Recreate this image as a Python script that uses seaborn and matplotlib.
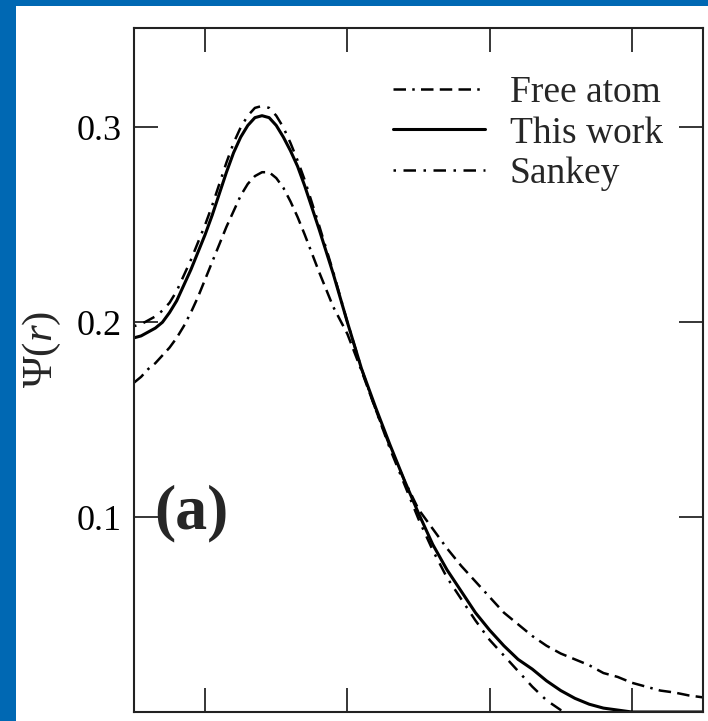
import numpy as np
import pandas as pd
import matplotlib
matplotlib.use("Agg")
import matplotlib.pyplot as plt
from matplotlib.patches import Rectangle
import seaborn as sns

### Data

r = [0.50, 0.55, 0.60, 0.65, 0.70, 0.75, 0.80, 0.85, 0.90, 0.95,
     1.00, 1.05, 1.10, 1.15, 1.20, 1.25, 1.30, 1.35, 1.40, 1.45,
     1.50, 1.55, 1.60, 1.65, 1.70, 1.8, 1.9, 2.0, 2.1, 2.2,
     2.3, 2.4, 2.5, 2.6, 2.7, 2.8, 2.9, 3.0, 3.1, 3.2,
     3.3, 3.4, 3.5, 3.6, 3.7, 3.8, 3.9, 4.0, 4.1, 4.2,
     4.3, 4.4, 4.5]

free_atom = [0.169, 0.172, 0.176, 0.179, 0.183, 0.187, 0.192, 0.198, 0.205, 0.213,
             0.222, 0.231, 0.240, 0.249, 0.257, 0.265, 0.271, 0.275, 0.277, 0.277,
             0.274, 0.269, 0.262, 0.254, 0.245, 0.226, 0.208, 0.194, 0.175, 0.155,
             0.136, 0.119, 0.104, 0.094, 0.084, 0.075, 0.067, 0.059, 0.051, 0.045,
             0.039, 0.034, 0.030, 0.027, 0.024, 0.020, 0.018, 0.015, 0.013, 0.011,
             0.010, 0.0085, 0.0075]

this_work = [0.192, 0.193, 0.195, 0.197, 0.200, 0.205, 0.211, 0.219, 0.227, 0.236,
             0.245, 0.255, 0.266, 0.277, 0.287, 0.295, 0.301, 0.305, 0.306, 0.305,
             0.301, 0.295, 0.288, 0.280, 0.270, 0.248, 0.225, 0.200, 0.176, 0.156,
             0.137, 0.119, 0.102, 0.086, 0.073, 0.062, 0.051, 0.042, 0.034, 0.027,
             0.022, 0.016, 0.011, 0.007, 0.004, 0.002, 0.001, 0.0, 0.0, 0.0,
             0.0, 0.0, 0.0]

sankey = [0.198, 0.199, 0.201, 0.203, 0.206, 0.210, 0.216, 0.224, 0.232, 0.241,
          0.250, 0.260, 0.271, 0.282, 0.292, 0.300, 0.306, 0.310, 0.311, 0.310,
          0.306, 0.300, 0.292, 0.283, 0.273, 0.250, 0.226, 0.200, 0.176, 0.155,
          0.135, 0.117, 0.099, 0.083, 0.069, 0.058, 0.047, 0.037, 0.029, 0.021,
          0.013, 0.006, 0.001, -0.002, -0.004, -0.004, -0.003, -0.002, -0.001, -0.001,
          -0.002, -0.003, -0.004]

labels = ["Free atom", "This work", "Sankey"]
x_ticks = [1, 2, 3, 4]
y_ticks = [0.1, 0.2, 0.3]
y_tick_labels = ["0.1", "0.2", "0.3"]

df = pd.DataFrame({"r": r, "Free atom": free_atom, "This work": this_work, "Sankey": sankey})

### Plot

sns.set_style("ticks")
plt.rcParams["font.family"] = ["Liberation Serif", "DejaVu Serif"]
plt.rcParams["mathtext.fontset"] = "custom"
plt.rcParams["mathtext.it"] = "Liberation Serif:italic"
plt.rcParams["mathtext.rm"] = "Liberation Serif"

fig = plt.figure(figsize=(7.08, 7.21), dpi=100, facecolor="#0068B3")
fig.patches.append(Rectangle((16 / 708, 0), 1 - 16 / 708, 715 / 721,
                             transform=fig.transFigure, facecolor="white",
                             edgecolor="none", zorder=-10))
ax = fig.add_axes([134 / 708, 9 / 721, 569 / 708, 684 / 721])
ax.set_facecolor("white")

styles = {
    "Free atom": dict(linestyle=(0, (5, 2.5, 1, 2.5, 5, 2.5, 5, 2.5)), lw=1.8),
    "This work": dict(linestyle="-", lw=2.2),
    "Sankey": dict(linestyle=(0, (1, 3, 5, 3)), lw=1.8),
}
for name in labels:
    sns.lineplot(data=df, x="r", y=name, ax=ax, color="black", label=name,
                 **styles[name])

ax.set_xlim(0.5, 4.5)
ax.set_ylim(0.0, 0.351)
ax.set_xticks(x_ticks)
ax.set_xticklabels([])
ax.set_yticks(y_ticks)
ax.set_yticklabels(y_tick_labels)
ax.tick_params(direction="in", length=17, width=1.1, top=True, right=True,
               labelsize=26, pad=9, colors="black")
for sp in ax.spines.values():
    sp.set_linewidth(1.5)
    sp.set_color("#222222")

ax.set_xlabel("")
ax.set_ylabel("\u03a8($r$)", fontsize=31)
ax.yaxis.set_label_coords(-0.125, 0.53)

ax.text(0.035, 0.29, "(a)", transform=ax.transAxes, fontsize=46,
        fontweight="bold", va="center", ha="left")

leg = ax.legend(loc="upper left", bbox_to_anchor=(0.455, 0.93), frameon=False,
                fontsize=27, handlelength=2.45, handletextpad=0.67,
                labelspacing=0.15, borderpad=0, borderaxespad=0)

plt.savefig("out.png", dpi=100, facecolor=fig.get_facecolor())
